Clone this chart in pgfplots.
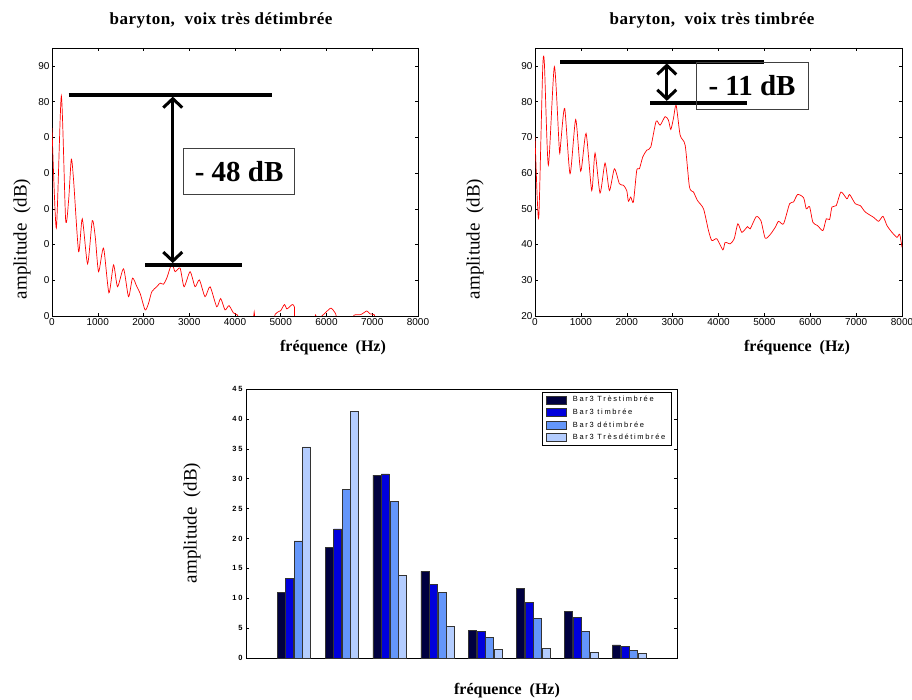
\documentclass[border=0pt]{standalone}
\usepackage{fontspec}
\setmainfont{Liberation Serif}
\setsansfont{Liberation Sans}
\usepackage{pgfplots}
\pgfplotsset{compat=1.18}
\usetikzlibrary{arrows.meta}

\definecolor{trest}{RGB}{0,0,64}
\definecolor{timb}{RGB}{0,0,220}
\definecolor{detim}{RGB}{100,150,250}
\definecolor{tresdet}{RGB}{180,205,255}

\pgfplotsset{
  spec/.style={
    scale only axis, width=366pt, height=268pt,
    xmin=0, xmax=8000, ymin=20, ymax=95,
    xtick={0,1000,...,8000}, ytick={20,30,...,90},
    tick align=inside, major tick length=3pt,
    tick style={black, line width=0.5pt},
    axis line style={line width=0.8pt},
    tick label style={font=\fontsize{10}{11}\selectfont\sffamily},
    xticklabel style={yshift=1pt},
    yticklabel style={xshift=1pt},
    /pgf/number format/assume math mode=true,
    /pgf/number format/1000 sep={},
    scaled ticks=false,
  },
}
\tikzset{
  barre/.style={line width=4pt},
  fleche/.style={line width=3pt,
    {Straight Barb[length=9pt,width=19pt]}-{Straight Barb[length=9pt,width=19pt]}},
  titre/.style={font=\fontsize{17}{19}\selectfont\bfseries\addfontfeature{LetterSpace=3}},
  legx/.style={font=\fontsize{16}{18}\selectfont\bfseries},
  legy/.style={font=\fontsize{19}{21}\selectfont, rotate=90},
}

\begin{document}
\begin{tikzpicture}[x=1pt,y=1pt]
\path[use as bounding box] (0,0) rectangle (912,699);

% spectre voix tres detimbree
\begin{axis}[spec, at={(52pt,383pt)}, anchor=origin,
  yticklabels={0,0,0,0,0,0,80,90}]
\addplot[red, line width=0.7pt, smooth, tension=0.4] coordinates {
(0,72.6) (95,44.6) (204,81.6) (298,46.9) (364,52.5) (422,63.9) (473,57.8)
(582,38) (662,47.2) (778,34.6) (880,46.7) (945,42.2) (1018,32.4) (1127,39)
(1244,26.5) (1345,34.3) (1433,28.2) (1564,33.2) (1673,25.4) (1760,30.6)
(1855,28.2) (1927,26.3) (2036,21.7) (2109,23.5) (2182,26.8) (2291,28.2)
(2364,29.2) (2436,28.9) (2509,30.6) (2618,34.6) (2691,32.4) (2800,33.4)
(2887,28.2) (3018,32.4) (3127,28.2) (3222,30.1) (3345,25.4) (3455,28.2)
(3600,22.6) (3687,24.9) (3782,21.7) (3869,22.9) (3964,20.9) (4051,20.3)
(4150,18) (4380,18) (4420,21.1) (4460,18) (4800,18) (4880,20.5) (4950,21.2)
(5000,21.5) (5080,23.2) (5130,22) (5170,22.3) (5250,23.2) (5300,22.5)
(5330,18) (5700,18) (5760,20.3) (5800,19) (5950,20.6) (6000,21.2)
(6100,22.2) (6200,20.6) (6260,18) (6550,18) (6600,20.2) (6750,20.4)
(6880,21.4) (6950,20.6) (7050,20.3) (7100,18) (8000,18)
};
\draw[barre] (axis cs:364,81.9) -- (axis cs:4800,81.9);
\draw[barre] (axis cs:2036,34.3) -- (axis cs:4145,34.3);
\draw[fleche] (axis cs:2640,34.8) -- (axis cs:2640,81.4);
\draw[black!75, line width=0.8pt] (axis cs:2873,53.9) rectangle (axis cs:5309,66.8);
\node[font=\fontsize{29}{30}\selectfont\bfseries] at (axis cs:4091,60.35) {- 48 dB};
\end{axis}

% spectre voix tres timbree
\begin{axis}[spec, at={(535pt,383pt)}, anchor=origin, width=367pt]
\addplot[red, line width=0.7pt, smooth, tension=0.4] coordinates {
(0,70.1) (51,52.3) (87,48.8) (167,88.9) (204,90.8) (291,62.2) (422,89.8)
(531,66.4) (560,68.3) (647,78.1) (764,59.8) (887,75) (996,60.5) (1113,71.1)
(1236,55.1) (1309,65.6) (1418,54.4) (1527,62.8) (1622,55.1) (1731,61.2)
(1840,57) (1927,56.6) (2000,55.1) (2036,52.1) (2087,53.3) (2145,51.9)
(2218,60.8) (2276,61.2) (2349,64.5) (2436,66.4) (2524,67.3) (2640,74.5)
(2727,73.4) (2836,75.8) (2909,74.8) (2960,72.2) (3018,75.3) (3076,79)
(3164,70.6) (3273,67.8) (3367,56.1) (3455,54.7) (3542,52.3) (3673,50)
(3782,43.9) (3855,41.1) (3964,41.6) (4095,38.5) (4145,40.6) (4255,40.2)
(4342,41.6) (4422,45.8) (4509,43.4) (4633,45) (4691,44.4) (4822,47.8)
(4924,46.7) (5018,41.8) (5127,42.8) (5236,44.8) (5309,46.5) (5418,45.8)
(5549,51.4) (5636,51.9) (5724,54) (5855,53.1) (5913,50) (5985,50.6)
(6058,46.2) (6160,45.3) (6276,43.9) (6349,47.2) (6422,47) (6473,50.5)
(6567,50.9) (6669,54.7) (6800,52.8) (6858,54) (6982,51.4) (7091,50.9)
(7200,49.1) (7382,47.6) (7491,46.5) (7585,47.9) (7673,45.3) (7782,43.4)
(7891,42) (7949,42.9) (8000,39.2)
};
\draw[barre] (axis cs:545,91.2) -- (axis cs:4982,91.2);
\draw[barre] (axis cs:2509,79.7) -- (axis cs:4618,79.7);
\draw[fleche] (axis cs:2873,80.2) -- (axis cs:2873,90.7);
\draw[black!75, line width=0.8pt] (axis cs:3513,77.9) rectangle (axis cs:5949,91.0);
\node[font=\fontsize{29}{30}\selectfont\bfseries] at (axis cs:4731,84.5) {- 11 dB};
\end{axis}

% barres par bande de frequence
\begin{axis}[at={(246pt,41pt)}, anchor=origin,
  scale only axis, width=431pt, height=269pt,
  ybar=0.5pt, bar width=8pt,
  xmin=0, xmax=9, ymin=0, ymax=45,
  xtick=\empty, ytick={0,5,...,45},
  tick align=inside, major tick length=3pt,
  tick style={black, line width=0.5pt},
  axis line style={line width=0.8pt},
  tick label style={font=\fontsize{7.5}{8}\selectfont\sffamily\bfseries\addfontfeature{LetterSpace=25}},
  /pgf/number format/assume math mode=true,
  legend image code/.code={\draw[#1] (0pt,-3.8pt) rectangle (20pt,3.8pt);},
  legend style={at={(0.988,0.989)}, anchor=north east, draw=black, line width=1pt,
    font=\fontsize{7.5}{8}\selectfont\sffamily\addfontfeature{LetterSpace=22},
    inner xsep=4pt, inner ysep=2pt, row sep=1.5pt,
    /tikz/every odd column/.append style={column sep=4pt},
    /tikz/every even column/.append style={column sep=4pt}},
  legend cell align=left,
]
\addplot[fill=trest, draw=black!80, line width=0.5pt] coordinates {
(1,11.0) (2,18.5) (3,30.6) (4,14.5) (5,4.6) (6,11.7) (7,7.8) (8,2.2)};
\addplot[fill=timb, draw=black!80, line width=0.5pt] coordinates {
(1,13.3) (2,21.6) (3,30.8) (4,12.3) (5,4.4) (6,9.3) (7,6.8) (8,1.9)};
\addplot[fill=detim, draw=black!80, line width=0.5pt] coordinates {
(1,19.6) (2,28.2) (3,26.2) (4,11.0) (5,3.4) (6,6.6) (7,4.4) (8,1.3)};
\addplot[fill=tresdet, draw=black!80, line width=0.5pt] coordinates {
(1,35.3) (2,41.3) (3,13.8) (4,5.3) (5,1.5) (6,1.6) (7,0.9) (8,0.8)};
\legend{Bar3 Trèstimbrée, Bar3 timbrée, Bar3 détimbrée, Bar3 Trèsdétimbrée}
\end{axis}

% titres et axes
\node[titre] at (221,679) {baryton,~~voix très détimbrée};
\node[titre] at (712,679) {baryton,~~voix très timbrée};
\node[legx] at (333,351) {fréquence~~(Hz)};
\node[legx] at (797,351) {fréquence~~(Hz)};
\node[legx] at (507,8) {fréquence~~(Hz)};
\node[legy] at (22,460) {amplitude~~(dB)};
\node[legy] at (475,460) {amplitude~~(dB)};
\node[legy] at (192,176) {amplitude~~(dB)};
\end{tikzpicture}
\end{document}
